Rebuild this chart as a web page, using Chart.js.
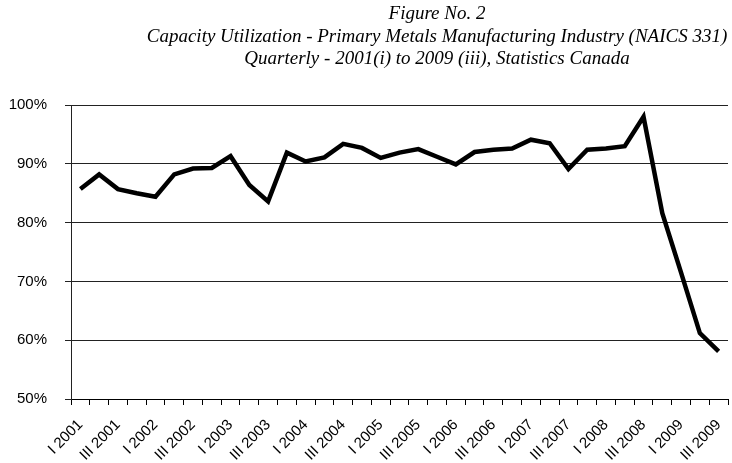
<!DOCTYPE html>
<html>
<head>
<meta charset="utf-8">
<script src="https://cdn.jsdelivr.net/npm/chart.js@4/dist/chart.umd.min.js"></script>
<style>
  html, body { margin: 0; padding: 0; background: #ffffff; }
  #wrap { position: relative; width: 732px; height: 463px; }
</style>
</head>
<body>
<div id="wrap"><canvas id="c" width="732" height="463"></canvas></div>
<script>
// ---- Data ----
const titleLines = [
  "Figure No. 2",
  "Capacity Utilization - Primary Metals Manufacturing Industry (NAICS 331)",
  "Quarterly - 2001(i) to 2009 (iii), Statistics Canada"
];
const quarters = [
  "I 2001","II 2001","III 2001","IV 2001",
  "I 2002","II 2002","III 2002","IV 2002",
  "I 2003","II 2003","III 2003","IV 2003",
  "I 2004","II 2004","III 2004","IV 2004",
  "I 2005","II 2005","III 2005","IV 2005",
  "I 2006","II 2006","III 2006","IV 2006",
  "I 2007","II 2007","III 2007","IV 2007",
  "I 2008","II 2008","III 2008","IV 2008",
  "I 2009","II 2009","III 2009"
];
const utilization = [
  85.7, 88.2, 85.7, 85.0,
  84.4, 88.2, 89.2, 89.3,
  91.3, 86.4, 83.6, 91.9,
  90.4, 91.1, 93.4, 92.7,
  91.0, 91.9, 92.5, 91.2,
  89.9, 92.0, 92.4, 92.6,
  94.1, 93.5, 89.1, 92.4,
  92.6, 93.0, 98.0, 81.6,
  71.5, 61.2, 58.1
];
const yTicks = [50, 60, 70, 80, 90, 100];

// ---- Title plugin (centered over the plot like the original) ----
const titlePlugin = {
  id: 'figTitle',
  afterDraw(chart) {
    const ctx = chart.ctx;
    ctx.save();
    ctx.fillStyle = '#000';
    ctx.textAlign = 'center';
    ctx.textBaseline = 'middle';
    ctx.font = 'italic 19px "Liberation Serif", serif';
    const cx = 437;
    const ys = [14, 37, 59];
    titleLines.forEach((t, i) => ctx.fillText(t, cx, ys[i]));
    ctx.restore();
  }
};

new Chart(document.getElementById('c'), {
  type: 'line',
  data: {
    labels: quarters,
    datasets: [{
      data: utilization,
      borderColor: '#000',
      borderWidth: 4.5,
      borderJoinStyle: 'miter',
      borderCapStyle: 'butt',
      pointRadius: 0,
      tension: 0,
      fill: false
    }]
  },
  options: {
    responsive: false,
    animation: false,
    layout: { padding: { top: 105, right: 4, left: 0, bottom: 0 } },
    plugins: {
      legend: { display: false },
      tooltip: { enabled: false },
      title: { display: false }
    },
    scales: {
      x: {
        offset: true,
        grid: {
          offset: true,
          drawOnChartArea: false,
          drawTicks: true,
          tickLength: 6,
          tickColor: '#000',
          tickWidth: 1
        },
        border: { display: true, color: '#000', width: 1 },
        ticks: {
          autoSkip: false,
          maxRotation: 45,
          minRotation: 45,
          padding: 11,
          color: '#000',
          font: { family: '"Liberation Sans", Arial, sans-serif', size: 15 },
          callback: function (v, i) { return i % 2 === 0 ? quarters[i] : ''; }
        },
        afterFit(scale) {
          scale.height = 64;
          scale.paddingRight = 0;
          scale.paddingLeft = 0;
        }
      },
      y: {
        min: 50,
        max: 100,
        afterBuildTicks(scale) { scale.ticks = yTicks.map(v => ({ value: v })); },
        grid: {
          color: '#222',
          lineWidth: 1,
          drawTicks: true,
          tickLength: 6,
          tickColor: '#222'
        },
        border: { display: true, color: '#222', width: 1 },
        ticks: {
          padding: 18,
          color: '#000',
          font: { family: '"Liberation Sans", Arial, sans-serif', size: 15 },
          callback: v => v + '%'
        },
        afterFit(scale) { scale.width = 71; }
      }
    }
  },
  plugins: [titlePlugin]
});
</script>
</body>
</html>
